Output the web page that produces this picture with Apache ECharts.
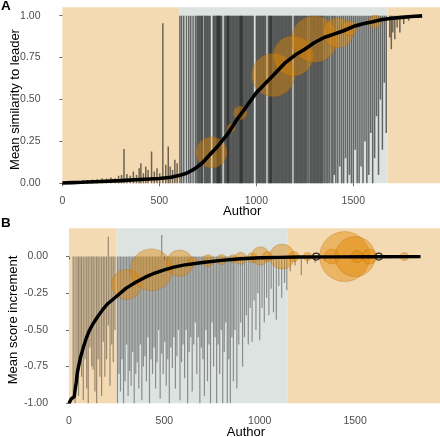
<!DOCTYPE html>
<html><head><meta charset="utf-8">
<script src="https://cdn.jsdelivr.net/npm/echarts@6/dist/echarts.min.js"></script>
<style>html,body{margin:0;padding:0;background:#fff}#c{width:440px;height:437px}</style>
</head><body><div id="c"></div>
<script>
// ---------- tick labels ----------
const xTicks = [0, 500, 1000, 1500];
const yTicksA = [0, 0.25, 0.5, 0.75, 1];
const yTicksB = [-1, -0.75, -0.5, -0.25, 0];

// ---------- shaded phases (author index where each phase starts) ----------
const phaseStartA = [0, 602, 1678];
const phaseStartB = [0, 250, 1147];
const phaseFloorA = 0;
const phaseFloorB = -1;

// ---------- panel A: mean similarity to leader (sorted) ----------
const curveA_x = [0,50,100,200,300,400,500,560,600,640,680,720,760,800,850,900,950,1000,1050,1100,1150,1200,1250,1300,1350,1400,1450,1500,1550,1600,1650,1700,1750,1800,1855];
const curveA_y = [0.002,0.004,0.006,0.011,0.016,0.023,0.029,0.036,0.046,0.06,0.085,0.12,0.17,0.22,0.29,0.38,0.46,0.54,0.60,0.66,0.72,0.765,0.80,0.84,0.87,0.89,0.91,0.935,0.952,0.964,0.977,0.985,0.99,0.995,0.999];

// ranges per author [author, low, high]
const linesA = [
 [10,0,0.008],[30,0,0.01],[55,0,0.012],[80,0,0.015],[105,0,0.018],[130,0,0.02],[155,0,0.022],[180,0,0.025],[205,0,0.03],[228,0,0.028],[250,0,0.035],[272,0,0.03],[290,0,0.045],[305,0,0.05],[318,0,0.205],[333,0,0.055],[350,0,0.045],[366,0,0.07],[382,0,0.05],[396,0,0.09],[405,0,0.12],[418,0,0.06],[430,0,0.10],[442,0,0.08],[460,0,0.19],[474,0,0.07],[488,0,0.09],[502,0,0.06],[518,0,0.955],[533,0,0.11],[546,0,0.22],[556,0,0.1],[568,0,0.08],[580,0,0.14],[592,0,0.12],
 [606,0,1],[615,0,1],[626,0,1],[640,0,1],[652,0,1],[662,0,1],[674,0,1],[686,0,1],[694,0,1],[700,0,1],[706,0,1],[712,0,1],[718,0,1],[722,0,1],[732,0,1],[738,0,1],[744,0,1],[750,0,1],[756,0,1],[762,0,1],[778,0,1],[784,0,1],[790,0,1],[796,0,1],[800,0,1],[804,0,1],[808,0,1],[812,0,1],[816,0,1],[822,0,1],[836,0,1],[842,0,1],[848,0,1],[852,0,1],[856,0,1],[860,0,1],[866,0,1],[872,0,1],[878,0,1],[884,0,1],[890,0,1],[896,0,1],[902,0,1],[908,0,1],[914,0,1],[918,0,1],[922,0,1],[926,0,1],[930,0,1],[936,0,1],[942,0,1],[948,0,1],[954,0,1],[960,0,1],[966,0,1],[972,0,1],[978,0,1],[984,0,1],[1000,0,1],[1006,0,1],[1012,0,1],[1018,0,1],[1024,0,1],[1030,0,1],[1036,0,1],[1042,0,1],[1048,0,1],[1062,0,1],[1068,0,1],[1072,0,1],[1076,0,1],[1080,0,1],[1086,0,1],[1092,0,1],[1098,0,1],[1104,0,1],[1110,0,1],[1116,0,1],[1122,0,1],[1128,0,1],[1134,0,1],[1140,0,1],[1146,0,1],[1152,0,1],[1158,0,1],[1164,0,1],[1170,0,1],[1176,0,1],[1182,0,1],[1196,0,1],[1202,0,1],[1208,0,1],[1214,0,1],[1220,0,1],[1226,0,1],[1232,0,1],[1238,0,1],[1244,0,1],[1250,0,1],[1256,0,1],[1262,0,1],[1270,0,1],[1278,0,1],[1284,0,1],[1290,0,1],[1296,0,1],[1302,0,1],[1308,0,1],[1314,0,1],[1320,0,1],[1326,0,1],[1332,0,1],[1338,0,1],[1344,0,1],[1352,0,1],[1360,0,1],[1368,0,1],[1376,0,1],
 [1386,0,1],[1394,0,1],[1402,0.05,1],[1410,0,1],[1420,0,1],[1430,0.1,1],[1440,0,1],[1450,0,1],[1460,0.15,1],[1470,0,1],[1480,0.05,1],[1490,0,1],[1500,0,1],[1510,0.2,1],[1520,0,1],[1530,0,1],[1540,0.1,1],[1550,0,1],[1560,0.25,1],[1570,0,1],[1580,0.05,1],[1590,0.3,1],[1600,0,1],[1610,0.15,1],[1620,0.4,1],[1630,0.05,1],[1640,0.5,1],[1650,0.2,1],[1660,0.6,1],[1670,0.3,1],
 [1688,0.87,1],[1696,0.8,1],[1704,0.9,1],[1714,0.86,1],[1726,0.93,1],[1740,0.9,1],[1760,0.95,1],[1785,0.97,1]
];

// bubbles [author, value, weight]
const bubblesA = [
 [769,0.184,38],[870,0.33,3],[917,0.42,7.3],[1087,0.646,74],[1190,0.76,64],[1300,0.86,85],[1421,0.897,36],[1480,0.925,9],[1612,0.964,6.8]
];

// ---------- panel B: mean score increment (sorted) ----------
const curveB_x = [0,5,12,20,28,33,38,43,50,60,75,90,105,125,150,175,200,250,300,350,400,450,500,550,600,700,800,900,1000,1100,1200,1400,1600,1843];
const curveB_y = [-1.0,-0.995,-0.97,-0.96,-0.955,-0.9,-0.86,-0.80,-0.75,-0.69,-0.62,-0.56,-0.51,-0.46,-0.41,-0.365,-0.325,-0.27,-0.215,-0.175,-0.14,-0.112,-0.09,-0.072,-0.058,-0.04,-0.026,-0.015,-0.008,-0.005,-0.003,-0.002,-0.001,0];

const linesB = [
 [22,-0.97,0],[32,-1.0,0],[42,-0.85,0],[50,-0.95,0],[58,-0.74,0],[66,-0.82,0],[75,-0.98,0],[84,-0.7,0],[93,-0.9,0],[101,-1.0,0],[110,-0.62,0],[119,-0.75,0],[127,-0.77,0],[136,-0.92,0],[145,-1.0,0],[153,-0.7,0],[162,-0.82,0],[171,-0.95,0],[180,-0.58,0],[188,-0.82,0],[197,-0.7,0],[206,-0.47,0.136],[215,-0.88,0],[224,-0.6,0],[232,-0.72,0],[241,-0.5,0],
 [254,-1.0,0],[262,-0.8,0],[270,-0.92,0],[278,-0.7,0],[286,-1.0,0],[294,-0.85,0],[302,-0.6,0],[310,-0.95,0],[318,-0.78,0],[326,-0.88,0],[334,-0.65,0],[342,-1.0,0],[350,-0.8,0],[358,-0.72,0],[366,-0.9,0],[374,-0.6,0],[382,-0.98,0],[390,-0.75,0],[398,-0.68,0],[406,-0.85,0],[414,-0.55,0],[422,-1.0,0],[430,-0.7,0],[438,-0.8,0],[446,-0.62,0],[454,-0.9,0],[462,-0.72,0],[470,-0.5,0],[478,-0.97,0],[486,-0.66,0.148],[494,-0.8,0],[502,-0.58,0],[510,-0.88,0],[518,-0.7,0],[526,-1.0,0],[534,-0.62,0],[542,-0.76,0],[550,-0.55,0],[558,-0.9,0],[566,-0.68,0],[574,-0.5,0],[582,-0.98,0],[590,-0.72,0],[598,-0.6,0],[606,-0.83,0],[614,-0.5,0],[622,-1.0,0],[630,-0.65,0],[638,-0.55,0],[646,-0.92,0],[654,-0.6,0],[662,-0.45,0],[670,-0.8,0],[678,-0.55,0],[686,-1.0,0],[694,-0.62,0],
 [702,-0.7,0],[710,-0.95,0],[718,-0.5,0],[726,-0.85,0],[734,-0.6,0],[742,-1.0,0],[750,-0.45,0],[758,-0.75,0],[766,-0.55,0],[774,-1.0,0],[782,-0.6,0],[790,-0.8,0],[798,-0.5,0],[806,-1.0,0],[814,-0.65,0],[822,-0.45,0],[830,-1.0,0],[838,-0.7,0],[846,-1.0,0],[854,-0.55,0],[862,-0.85,0],[870,-0.5,0],[880,-0.9,0],[890,-0.6,0],[900,-0.45,0],[910,-0.75,0],[920,-0.55,0],[930,-0.4,0],[940,-0.6,0],[950,-0.35,0],[960,-0.58,0],[970,-0.3,0],[980,-0.5,0],[990,-0.25,0],[1000,-0.57,0],[1012,-0.35,0],[1024,-0.45,0],[1036,-0.28,0],[1048,-0.4,0],[1060,-0.22,0],[1072,-0.38,0],[1087,-0.43,0],[1100,-0.2,0],[1115,-0.28,0],[1130,-0.18,0],[1142,-0.23,0],
 [1160,-0.1,0],[1185,-0.06,0],[1218,-0.125,0],[1250,-0.05,0],[1290,-0.04,0],[1340,-0.03,0]
];

const bubblesB = [
 [302,-0.19,36],[432,-0.09,70],[581,-0.045,28],[650,-0.035,3.2],[729,-0.028,5.8],[800,-0.02,4],[860,-0.015,2.6],[900,-0.012,5.8],[960,-0.008,4],[1004,0.005,13],[1040,0,4],[1117,0,25],[1180,0,4],[1250,0,2.6],[1378,0,9],[1445,0,100],[1500,0,64],[1510,0,5.8],[1575,0,9],[1758,0,2.6]
];
const ringsB = [[1296,0],[1624,0]];

// ---------- drawing ----------
const FONT = '"Liberation Sans", Arial, Helvetica, sans-serif';
const X_MIN_A = -92, X_MAX_A = 1947, Y_MIN_A = -0.05, Y_MAX_A = 1.05;
const X_MIN_B = -89, X_MAX_B = 1945, Y_MIN_B = -1.057, Y_MAX_B = 0.193;
const phaseFill = ['#F4DAB3', '#DDE3E1', '#F4DAB3'];
const sizeOf = v => 5 * Math.sqrt(v[2]);

function phases(starts, xmax) {
  return starts.map((s, i) => [s, i + 1 < starts.length ? starts[i + 1] : xmax]);
}
function bgRender(floor) {
  return function (params, api) {
    const cs = params.coordSys;
    const p0 = api.coord([api.value(0), floor]);
    const p1 = api.coord([api.value(1), floor]);
    const right = Math.min(p1[0], cs.x + cs.width);
    return { type: 'rect', shape: { x: p0[0], y: cs.y, width: right - p0[0], height: p0[1] - cs.y },
             style: { fill: phaseFill[params.dataIndex] } };
  };
}
function rangeRender(color, width) {
  return function (params, api) {
    const a = api.coord([api.value(0), api.value(1)]);
    const b = api.coord([api.value(0), api.value(2)]);
    return { type: 'line', shape: { x1: a[0], y1: a[1], x2: b[0], y2: b[1] },
             style: { stroke: color, lineWidth: width } };
  };
}
function xAxisCfg(grid, min, max, gap) {
  return { gridIndex: grid, type: 'value', min: min, max: max,
    axisLine: { show: false }, splitLine: { show: false },
    axisTick: { show: true, length: 3, customValues: xTicks, lineStyle: { color: '#444', width: 0.8 } },
    axisLabel: { customValues: xTicks, color: '#4D4D4D', fontSize: 10.5, margin: 4, fontFamily: FONT,
                 formatter: v => String(Math.round(v)) },
    name: 'Author', nameLocation: 'middle', nameGap: gap, nameMoveOverlap: false,
    nameTextStyle: { fontSize: 13, color: '#000', fontFamily: FONT } };
}
function yAxisCfg(grid, min, max, ticks, name, gap) {
  return { gridIndex: grid, type: 'value', min: min, max: max,
    axisLine: { show: false }, splitLine: { show: false },
    axisTick: { show: true, length: 3, customValues: ticks, lineStyle: { color: '#444', width: 0.8 } },
    axisLabel: { customValues: ticks, color: '#4D4D4D', fontSize: 10.5, margin: 4, fontFamily: FONT,
                 formatter: v => Number(v).toFixed(2) },
    name: name, nameLocation: 'middle', nameGap: gap, nameMoveOverlap: false,
    nameTextStyle: { fontSize: 13, color: '#000', fontFamily: FONT } };
}
const bubbleStyle = { color: 'rgba(225,135,0,0.55)', borderColor: 'rgba(170,95,0,0.6)', borderWidth: 0.6 };

const chart = echarts.init(document.getElementById('c'), null, { renderer: 'canvas' });
chart.setOption({
  animation: false,
  backgroundColor: '#fff',
  title: [
    { text: 'A', left: 1, top: -1, padding: 0, textStyle: { fontSize: 13.5, fontWeight: 'bold', color: '#000', fontFamily: FONT } },
    { text: 'B', left: 1, top: 216, padding: 0, textStyle: { fontSize: 13.5, fontWeight: 'bold', color: '#000', fontFamily: FONT } }
  ],
  grid: [
    { left: 44.5, right: 0, top: 7.3, bottom: 245.3, outerBoundsMode: 'none', containLabel: false },
    { left: 52, right: 0, top: 228.3, bottom: 25.4, outerBoundsMode: 'none', containLabel: false }
  ],
  xAxis: [ xAxisCfg(0, X_MIN_A, X_MAX_A, 13.5), xAxisCfg(1, X_MIN_B, X_MAX_B, 14.5) ],
  yAxis: [ yAxisCfg(0, Y_MIN_A, Y_MAX_A, yTicksA, 'Mean similarity to leader', 23),
           yAxisCfg(1, Y_MIN_B, Y_MAX_B, yTicksB, 'Mean score increment', 32) ],
  series: [
    { type: 'custom', xAxisIndex: 0, yAxisIndex: 0, silent: true, z: 0, renderItem: bgRender(phaseFloorA),
      data: phases(phaseStartA, X_MAX_A), encode: { x: [0, 1] } },
    { type: 'custom', xAxisIndex: 0, yAxisIndex: 0, silent: true, z: 1, renderItem: rangeRender('rgba(0,0,0,0.55)', 1.5),
      data: linesA, encode: { x: 0, y: [1, 2] } },
    { type: 'scatter', xAxisIndex: 0, yAxisIndex: 0, z: 2, data: bubblesA, symbolSize: sizeOf, itemStyle: bubbleStyle },
    { type: 'line', xAxisIndex: 0, yAxisIndex: 0, z: 3, showSymbol: false,
      data: curveA_x.map((x, i) => [x, curveA_y[i]]), lineStyle: { color: '#000', width: 3.6 } },

    { type: 'custom', xAxisIndex: 1, yAxisIndex: 1, silent: true, z: 0, renderItem: bgRender(phaseFloorB),
      data: phases(phaseStartB, X_MAX_B), encode: { x: [0, 1] } },
    { type: 'custom', xAxisIndex: 1, yAxisIndex: 1, silent: true, z: 1, renderItem: rangeRender('rgba(0,0,0,0.38)', 1.2),
      data: linesB, encode: { x: 0, y: [1, 2] } },
    { type: 'scatter', xAxisIndex: 1, yAxisIndex: 1, z: 2, data: bubblesB, symbolSize: sizeOf, itemStyle: bubbleStyle },
    { type: 'line', xAxisIndex: 1, yAxisIndex: 1, z: 3, showSymbol: false,
      data: curveB_x.map((x, i) => [x, curveB_y[i]]), lineStyle: { color: '#000', width: 3.4 } },
    { type: 'scatter', xAxisIndex: 1, yAxisIndex: 1, z: 4, data: ringsB, symbolSize: 7,
      itemStyle: { color: 'rgba(0,0,0,0)', borderColor: '#000', borderWidth: 1.2 } }
  ]
});
</script></body></html>
